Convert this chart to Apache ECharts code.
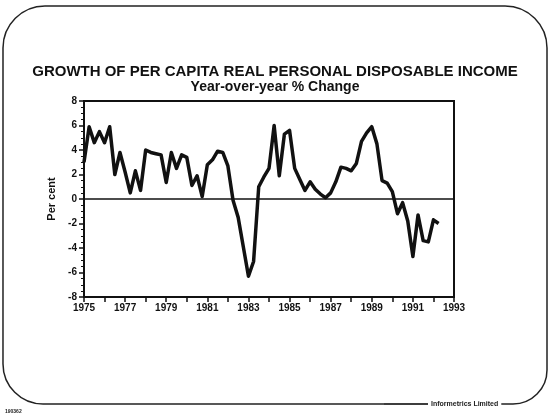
<!DOCTYPE html>
<html>
<head>
<meta charset="utf-8">
<script src="https://cdn.jsdelivr.net/npm/echarts@6/dist/echarts.min.js"></script>
<style>
  html, body { margin: 0; padding: 0; background: #fff; }
  #main { width: 550px; height: 419px; }
</style>
</head>
<body>
<div id="main"></div>
<script>
// 季度数据，从 1975Q1 开始
const startYear = 1975
const quarterlyGrowth = [
  3.0, 5.9, 4.6, 5.5, 4.6, 5.9, 2.0, 3.8, 2.2, 0.5,
  2.3, 0.7, 4.0, 3.8, 3.7, 3.6, 1.35, 3.8, 2.5, 3.6,
  3.4, 1.1, 1.9, 0.2, 2.8, 3.2, 3.9, 3.8, 2.7, -0.1,
  -1.5, -3.9, -6.3, -5.1, 1.0, 1.8, 2.5, 6.0, 1.9, 5.3,
  5.6, 2.5, 1.6, 0.7, 1.4, 0.8, 0.4, 0.1, 0.5, 1.4,
  2.6, 2.5, 2.3, 2.9, 4.7, 5.4, 5.9, 4.5, 1.5, 1.3,
  0.6, -1.2, -0.3, -1.8, -4.7, -1.3, -3.4, -3.5, -1.7, -2.0
]
const yearLabels = [1975, 1977, 1979, 1981, 1983, 1985, 1987, 1989, 1991, 1993]
const yTicks = [-8, -6, -4, -2, 0, 2, 4, 6, 8]

const seriesData = quarterlyGrowth.map((v, i) => [startYear + i / 4, v])

const font = 'Liberation Sans, Arial, sans-serif'

const myChart = echarts.init(document.getElementById('main'))
myChart.setOption({
  animation: false,
  backgroundColor: '#fff',
  title: {
    text: 'GROWTH OF PER CAPITA REAL PERSONAL DISPOSABLE INCOME',
    subtext: 'Year-over-year % Change',
    left: 'center',
    top: 59,
    itemGap: 1,
    textStyle: { fontFamily: font, fontWeight: 'bold', fontSize: 15, color: '#111' },
    subtextStyle: { fontFamily: font, fontWeight: 'bold', fontSize: 14, color: '#111' }
  },
  grid: {
    left: 84, right: 96, top: 101, bottom: 122,
    show: true, borderColor: '#111', borderWidth: 2, backgroundColor: 'transparent'
  },
  xAxis: {
    type: 'value',
    min: yearLabels[0],
    max: yearLabels[yearLabels.length - 1],
    interval: 1,
    splitLine: { show: false },
    axisLine: { onZero: false, lineStyle: { color: '#111', width: 2 } },
    axisTick: { lineStyle: { color: '#111', width: 1.5 }, length: 5 },
    axisLabel: {
      color: '#111', fontFamily: font, fontWeight: 'bold', fontSize: 10, margin: 6,
      formatter: v => yearLabels.includes(v) ? String(v) : ''
    }
  },
  yAxis: {
    type: 'value',
    min: yTicks[0],
    max: yTicks[yTicks.length - 1],
    interval: 2,
    name: 'Per cent',
    nameLocation: 'middle',
    nameGap: 27,
    nameRotate: 90,
    nameTextStyle: { fontFamily: font, fontWeight: 'bold', fontSize: 11, color: '#111' },
    splitLine: { show: false },
    axisLine: { onZero: false, lineStyle: { color: '#111', width: 2 } },
    axisTick: { lineStyle: { color: '#111', width: 1.5 }, length: 5 },
    minorTick: { show: true, splitNumber: 4, length: 3, lineStyle: { color: '#111', width: 1 } },
    axisLabel: { color: '#111', fontFamily: font, fontWeight: 'bold', fontSize: 10, margin: 7 }
  },
  series: [{
    type: 'line',
    data: seriesData,
    showSymbol: false,
    lineStyle: { color: '#111', width: 3.5, join: 'round' },
    markLine: {
      silent: true,
      symbol: 'none',
      label: { show: false },
      lineStyle: { color: '#111', width: 1.5, type: 'solid' },
      data: [{ yAxis: 0 }]
    }
  }],
  graphic: [
    // 外框（圆角）
    {
      type: 'rect',
      shape: { x: 3, y: 6, width: 544, height: 398, r: [42, 42, 34, 40] },
      style: { fill: null, stroke: '#222', lineWidth: 1.5 }
    },
    {
      type: 'text', left: 428, top: 399,
      style: {
        text: 'Informetrics Limited', fontFamily: font, fontWeight: 'bold', fontSize: 7, fill: '#222',
        backgroundColor: '#fff', padding: [2, 3, 2, 3]
      }
    },
    {
      type: 'line',
      shape: { x1: 384, y1: 404, x2: 428, y2: 404 },
      style: { stroke: '#222', lineWidth: 1 }
    },
    {
      type: 'text', left: 5, top: 409,
      style: { text: '190362', fontFamily: font, fontWeight: 'bold', fontSize: 5, fill: '#222' }
    }
  ]
})
</script>
</body>
</html>
